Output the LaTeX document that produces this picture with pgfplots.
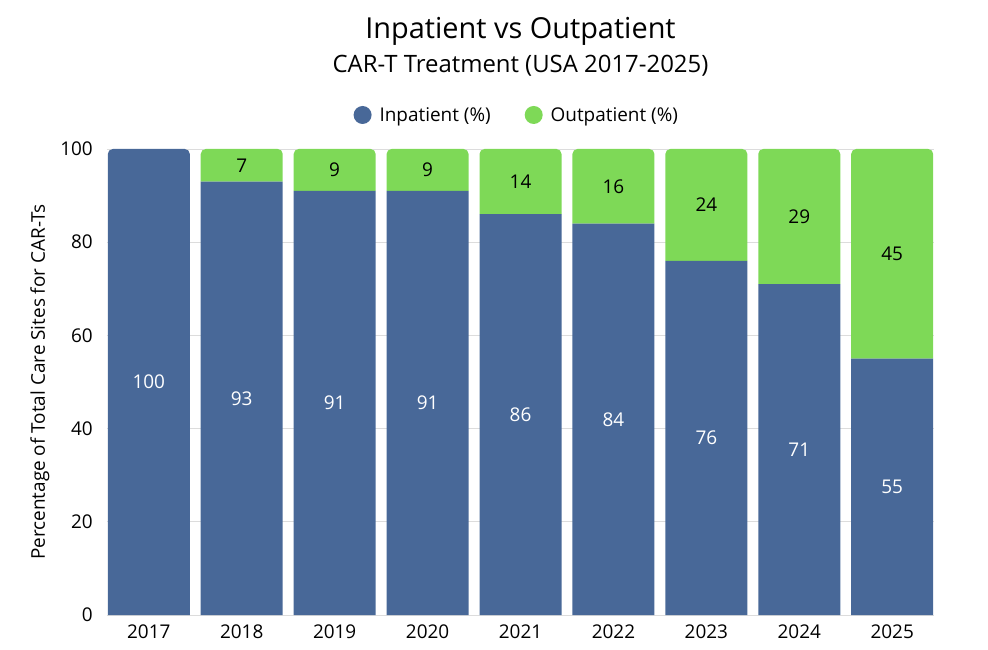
\documentclass[border=0pt]{standalone}
\usepackage{pgfplots}
\pgfplotsset{compat=1.18}
\usepackage{pgfplotstable}
\usepackage{fontspec}
\setmainfont{Open Sans}

\definecolor{inblue}{HTML}{486898}
\definecolor{outgreen}{HTML}{7ED957}
\definecolor{gridgray}{HTML}{DCDCDC}

% rectangles drawn while \ifroundtop is true get rounded top corners
\makeatletter
\newif\ifroundtop
\newdimen\rt@xa \newdimen\rt@xb \newdimen\rt@ya \newdimen\rt@yb
\newdimen\rt@r \newdimen\rt@k \newdimen\rt@t
\rt@r=5bp \rt@k=0.4477\rt@r
\let\rt@origrect\pgfpathrectangle
\def\roundtoprect#1#2{%
  \pgf@process{#1}\rt@xa=\pgf@x \rt@ya=\pgf@y
  \pgf@process{#2}\rt@xb=\dimexpr\rt@xa+\pgf@x\relax \rt@yb=\dimexpr\rt@ya+\pgf@y\relax
  \ifdim\rt@xa>\rt@xb \rt@t=\rt@xa \rt@xa=\rt@xb \rt@xb=\rt@t \fi
  \ifdim\rt@ya>\rt@yb \rt@t=\rt@ya \rt@ya=\rt@yb \rt@yb=\rt@t \fi
  \ifroundtop
    \ifdim\dimexpr\rt@yb-\rt@ya\relax>\rt@r
      \pgfpathmoveto{\pgfqpoint{\rt@xa}{\rt@ya}}%
      \pgfpathlineto{\pgfqpoint{\rt@xa}{\dimexpr\rt@yb-\rt@r\relax}}%
      \pgfpathcurveto{\pgfqpoint{\rt@xa}{\dimexpr\rt@yb-\rt@k\relax}}%
        {\pgfqpoint{\dimexpr\rt@xa+\rt@k\relax}{\rt@yb}}%
        {\pgfqpoint{\dimexpr\rt@xa+\rt@r\relax}{\rt@yb}}%
      \pgfpathlineto{\pgfqpoint{\dimexpr\rt@xb-\rt@r\relax}{\rt@yb}}%
      \pgfpathcurveto{\pgfqpoint{\dimexpr\rt@xb-\rt@k\relax}{\rt@yb}}%
        {\pgfqpoint{\rt@xb}{\dimexpr\rt@yb-\rt@k\relax}}%
        {\pgfqpoint{\rt@xb}{\dimexpr\rt@yb-\rt@r\relax}}%
      \pgfpathlineto{\pgfqpoint{\rt@xb}{\rt@ya}}%
      \pgfpathclose
    \else
      \rt@origrect{\pgfqpoint{\rt@xa}{\rt@ya}}{\pgfqpoint{\dimexpr\rt@xb-\rt@xa\relax}{\dimexpr\rt@yb-\rt@ya\relax}}%
    \fi
  \else
    \rt@origrect{#1}{#2}%
  \fi}
\makeatother

\pgfplotstableread{
x year inp out
0 2017 100 0
1 2018 93 7
2 2019 91 9
3 2020 91 9
4 2021 86 14
5 2022 84 16
6 2023 76 24
7 2024 71 29
8 2025 55 45
}\datatable

\newcommand\lblfont{\fontsize{19}{22}\selectfont}

\begin{document}
\begin{tikzpicture}
  \let\pgfpathrectangle\roundtoprect
  \begin{axis}[
      width=827bp, height=466bp, scale only axis,
      ybar stacked, bar width=82bp,
      xmin=-0.45, xmax=8.45, ymin=0, ymax=100,
      xtick=data, xticklabels from table={\datatable}{year},
      ytick={0,20,...,100},
      ymajorgrids, grid style={gridgray, line width=0.8bp},
      axis line style={draw=none}, major tick length=0pt,
      /pgf/number format/assume math mode=true,
      tick label style={font=\lblfont, inner sep=0pt},
      yticklabel style={xshift=-14bp},
      xticklabel style={yshift=-10bp},
      ylabel={Percentage of Total Care Sites for CAR-Ts},
      every axis y label/.style={at={(axis description cs:0,0.5)},
        rotate=90, anchor=center, yshift=67bp, font=\lblfont},
      legend columns=2,
      legend style={at={(0.4955,1.073)}, anchor=center, draw=none,
        font=\lblfont,
        /tikz/every even column/.append style={column sep=32bp}},
      nodes near coords={\pgfmathfloatifflags{\pgfplotspointmeta}{0}{}{\pgfmathprintnumber{\pgfplotspointmeta}}},
      nodes near coords align=center,
      every node near coord/.append style={font=\lblfont, anchor=center},
    ]

    \addlegendimage{legend image code/.code={\fill[inblue, draw=none] (0bp,0bp) circle (9bp);
      \path[draw=none, fill=none] (-9bp,0bp) rectangle (15bp,0.1bp);}}
    \addlegendimage{legend image code/.code={\fill[outgreen, draw=none] (0bp,0bp) circle (9bp);
      \path[draw=none, fill=none] (-9bp,0bp) rectangle (15bp,0.1bp);}}

    % inpatient where it is the whole bar (rounded top)
    \addplot[fill=inblue, draw=none, /utils/exec={\roundtoptrue},
      every node near coord/.append style={text=white}]
      table[x=x, y expr={\thisrow{out}==0 ? \thisrow{inp} : 0}] {\datatable};

    % inpatient below an outpatient part (square top)
    \addplot[fill=inblue, draw=none, /utils/exec={\roundtopfalse},
      every node near coord/.append style={text=white}]
      table[x=x, y expr={\thisrow{out}==0 ? 0 : \thisrow{inp}}] {\datatable};

    % outpatient (rounded top)
    \addplot[fill=outgreen, draw=none, /utils/exec={\roundtoptrue},
      every node near coord/.append style={text=black}]
      table[x=x, y=out] {\datatable};

    \legend{Inpatient (\%), Outpatient (\%)}
  \end{axis}

  \node[anchor=base, font=\fontsize{29}{34}\selectfont]
    at ([yshift=110bp]current axis.north) {Inpatient vs Outpatient};
  \node[anchor=base, font=\fontsize{24}{28}\selectfont]
    at ([yshift=76bp]current axis.north) {CAR-T Treatment (USA 2017-2025)};

  \path ([shift={(-107bp,-35bp)}]current axis.south west)
    rectangle ([shift={(54bp,149bp)}]current axis.north east);
\end{tikzpicture}
\end{document}
